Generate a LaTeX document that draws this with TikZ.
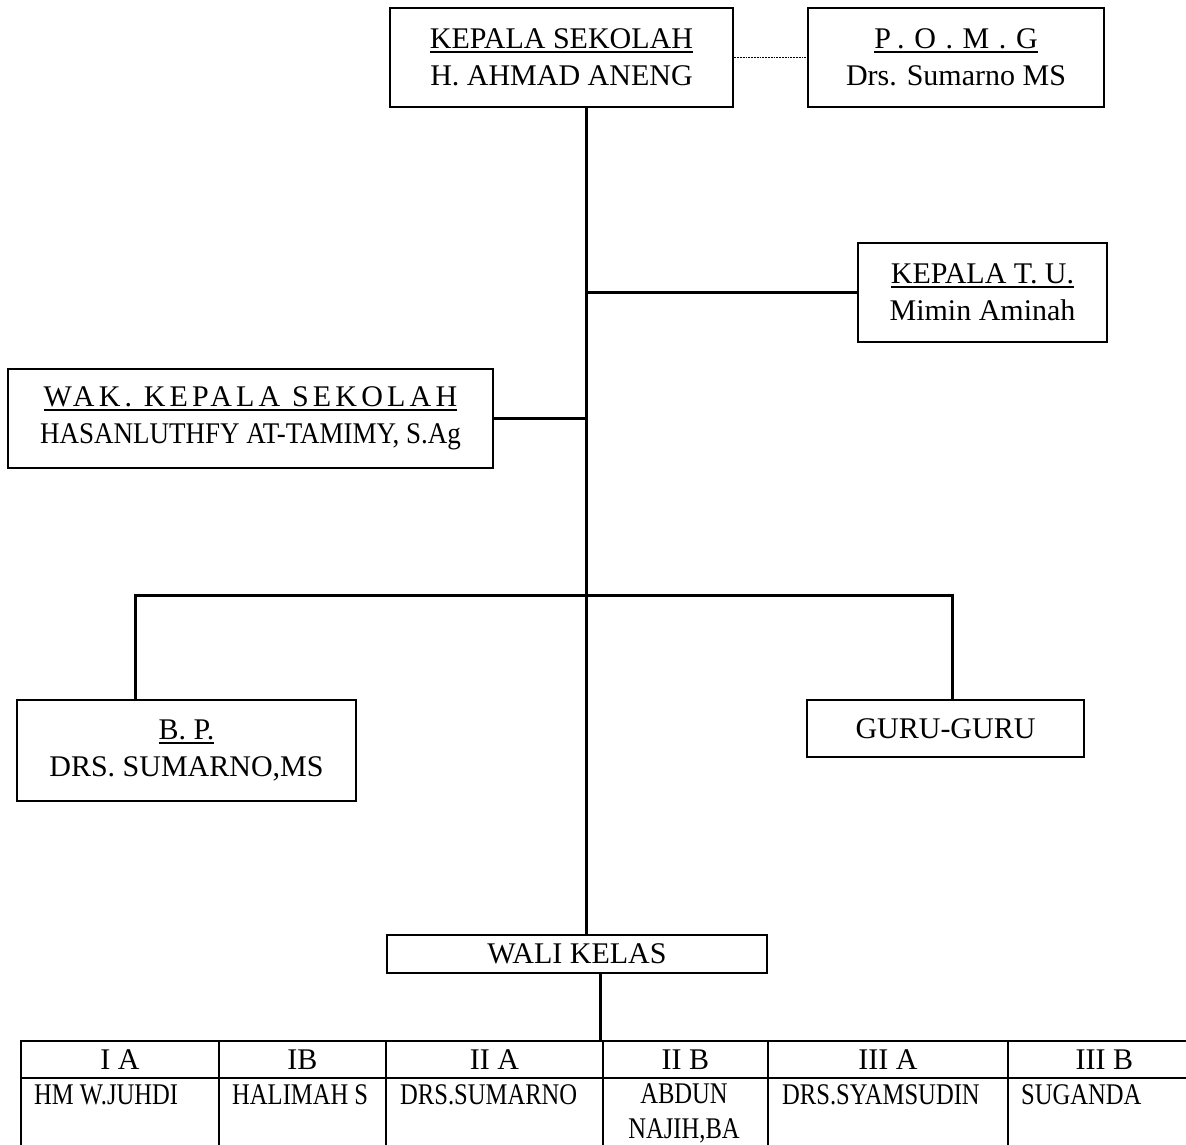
\documentclass[tikz,border=0pt]{standalone}
\usepackage{fontspec}
\setmainfont{Liberation Serif}
\newfontfamily\condfont[FakeStretch=0.82]{Liberation Serif}
\newfontfamily\semicond[FakeStretch=0.9]{Liberation Serif}
\newfontfamily\spacedA[LetterSpace=14]{Liberation Serif}
\newfontfamily\spacedB[LetterSpace=32]{Liberation Serif}
\newcommand\ulinetext[1]{\setbox0\hbox{#1}\rlap{\rule[-4pt]{\wd0}{1.6pt}}\box0}
\tikzset{
  orgbox/.style={draw, line width=2.6pt, inner sep=0pt, align=center, font=\fontsize{30}{37}\selectfont},
  orglink/.style={line width=3pt},
  tcell/.style={draw, line width=1.8pt, inner sep=0pt, anchor=north west, font=\fontsize{30}{36}\selectfont},
  tname/.style={font=\condfont\fontsize{30}{35}\selectfont, inner sep=0pt, align=center},
}
\begin{document}
\begin{tikzpicture}[x=1pt,y=-1pt]
\useasboundingbox (0,0) rectangle (1186,1145);
\fill[white] (0,0) rectangle (1186,1145);
\clip (0,0) rectangle (1186,1145);

% boxes
\node[orgbox, minimum width=343pt, minimum height=99pt] (ks) at (561.5,57.5)
  {\ulinetext{KEPALA SEKOLAH}\\H. AHMAD ANENG};
\node[orgbox, minimum width=296pt, minimum height=99pt] (pomg) at (956,57.5)
  {\ulinetext{\spacedB P.O.M.G}\\Drs. Sumarno MS};
\node[orgbox, minimum width=249pt, minimum height=99pt] (tu) at (982.5,292.5)
  {\ulinetext{KEPALA T. U.}\\Mimin Aminah};
\node[orgbox, minimum width=485pt, minimum height=99pt] (wak) at (250.5,418.5)
  {\ulinetext{\spacedA WAK. KEPALA SEKOLAH}\\{\semicond HASANLUTHFY AT-TAMIMY, S.Ag}};
\node[orgbox, minimum width=339pt, minimum height=101pt] (bp) at (186.5,750.5)
  {\ulinetext{B. P.}\\DRS. SUMARNO,MS};
\node[orgbox, minimum width=277pt, minimum height=57pt] (guru) at (945.5,728.5)
  {GURU-GURU};
\node[orgbox, minimum width=380pt, minimum height=38pt, line width=2pt] (wali) at (577,954)
  {WALI KELAS};

% table header
\node[tcell, minimum width=198pt, minimum height=37pt] (h1) at (20,1040) {I A};
\node[tcell, minimum width=167pt, minimum height=37pt] (h2) at (218,1040) {IB};
\node[tcell, minimum width=217pt, minimum height=37pt] (h3) at (385,1040) {II A};
\node[tcell, minimum width=165pt, minimum height=37pt] (h4) at (602,1040) {II B};
\node[tcell, minimum width=240pt, minimum height=37pt] (h5) at (767,1040) {III A};
\node[tcell, minimum width=193pt, minimum height=37pt] (h6) at (1007,1040) {III B};
% table body
\node[tcell, minimum width=198pt, minimum height=123pt] (b1) at (20,1077) {};
\node[tcell, minimum width=167pt, minimum height=123pt] (b2) at (218,1077) {};
\node[tcell, minimum width=217pt, minimum height=123pt] (b3) at (385,1077) {};
\node[tcell, minimum width=165pt, minimum height=123pt] (b4) at (602,1077) {};
\node[tcell, minimum width=240pt, minimum height=123pt] (b5) at (767,1077) {};
\node[tcell, minimum width=193pt, minimum height=123pt] (b6) at (1007,1077) {};
\node[tname, anchor=base west] (n1) at (34,1104) {HM W.JUHDI};
\node[tname, anchor=base west] (n2) at (232,1104) {HALIMAH S};
\node[tname, anchor=base west] (n3) at (400,1104) {DRS.SUMARNO};
\node[tname, anchor=north] (n4) at (684,1083) {ABDUN\\NAJIH,BA};
\node[tname, anchor=base west] (n5) at (782,1104) {DRS.SYAMSUDIN};
\node[tname, anchor=base west] (n6) at (1021,1104) {SUGANDA};

% connectors
\coordinate (trunk) at (586,0);
\coordinate (bl) at (135,595);
\coordinate (br) at (952,595);
\coordinate (tk) at (600,0);
\draw[densely dotted, line width=1.8pt] (ks.east) -- (pomg.west);
\draw[orglink] (trunk |- ks.south) -- (trunk |- wali.north);
\draw[orglink] (trunk |- tu.west) -- (tu.west);
\draw[orglink] (wak.east) -- (trunk |- wak.east);
\draw[orglink] (bl |- bp.north) -- (bl) -- (br) -- (br |- guru.north);
\draw[orglink] (tk |- wali.south) -- (tk |- h3.north);
\end{tikzpicture}
\end{document}
